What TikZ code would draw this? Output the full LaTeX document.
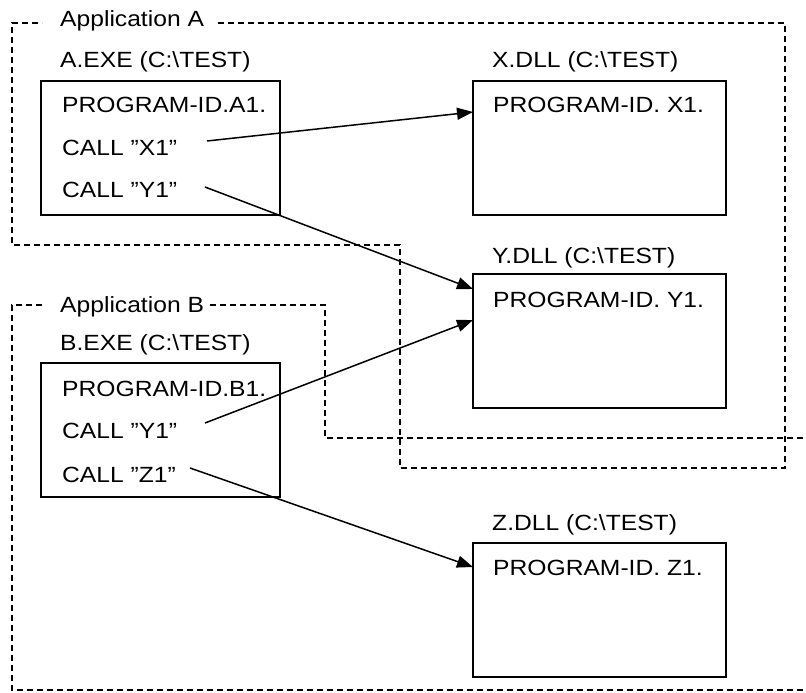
\documentclass[tikz,border=0pt]{standalone}
\usepackage{fontspec}
\setmainfont{Liberation Sans}[FakeStretch=1.12]
\usetikzlibrary{arrows.meta}
\begin{document}
\begin{tikzpicture}[x=1pt,y=-1pt,
  every node/.style={font=\fontsize{22}{25}\selectfont, inner sep=0pt, anchor=base west},
  modbox/.style={draw, line width=1.5pt},
  appline/.style={line width=1.3pt, dash pattern=on 6pt off 4pt},
  callarrow/.style={line width=1.5pt, -{Triangle[length=16pt,width=12pt]}}]
\useasboundingbox (0,0) rectangle (806,693);
% Application A region
\node (appA) at (60,27) {Application A};
\draw[appline] (218,23) -- (785,23) -- (785,468) -- (400,468) -- (400,245) -- (12,245) -- (12,23) -- (42,23);
% Application B region
\node (appB) at (60,312) {Application B};
\draw[appline] (210,305) -- (325,305) -- (325,438) -- (806,438);
\draw[appline] (42,305) -- (12,305) -- (12,690) -- (806,690);
% A.EXE
\node (alabel) at (60,68) {A.EXE (C:\textbackslash TEST)};
\draw[modbox] (41,81) rectangle (280,215);
\node (apid) at (62,113) {PROGRAM-ID.A1.};
\node (acx) at (62,155) {CALL "X1"};
\node (acy) at (62,197) {CALL "Y1"};
% X.DLL
\node (xlabel) at (492,68) {X.DLL (C:\textbackslash TEST)};
\draw[modbox] (473,81) rectangle (726,215);
\node (xpid) at (493,113) {PROGRAM-ID. X1.};
% Y.DLL
\node (ylabel) at (492,263) {Y.DLL (C:\textbackslash TEST)};
\draw[modbox] (473,274) rectangle (726,408);
\node (ypid) at (493,307) {PROGRAM-ID. Y1.};
% B.EXE
\node (blabel) at (60,350) {B.EXE (C:\textbackslash TEST)};
\draw[modbox] (41,363) rectangle (280,497);
\node (bpid) at (62,396) {PROGRAM-ID.B1.};
\node (bcy) at (62,438) {CALL "Y1"};
\node (bcz) at (62,482) {CALL "Z1"};
% Z.DLL
\node (zlabel) at (492,530) {Z.DLL (C:\textbackslash TEST)};
\draw[modbox] (473,543) rectangle (726,677);
\node (zpid) at (493,575) {PROGRAM-ID. Z1.};
% arrow endpoints
\coordinate (s1) at (207,141);
\coordinate (t1) at (473,112);
\coordinate (s2) at (205,187);
\coordinate (t2) at (473,289);
\coordinate (s3) at (205,423);
\coordinate (t3) at (473,320);
\coordinate (s4) at (190,468);
\coordinate (t4) at (473,567);
\draw[callarrow] (s1) -- (t1);
\draw[callarrow] (s2) -- (t2);
\draw[callarrow] (s3) -- (t3);
\draw[callarrow] (s4) -- (t4);
\end{tikzpicture}
\end{document}
